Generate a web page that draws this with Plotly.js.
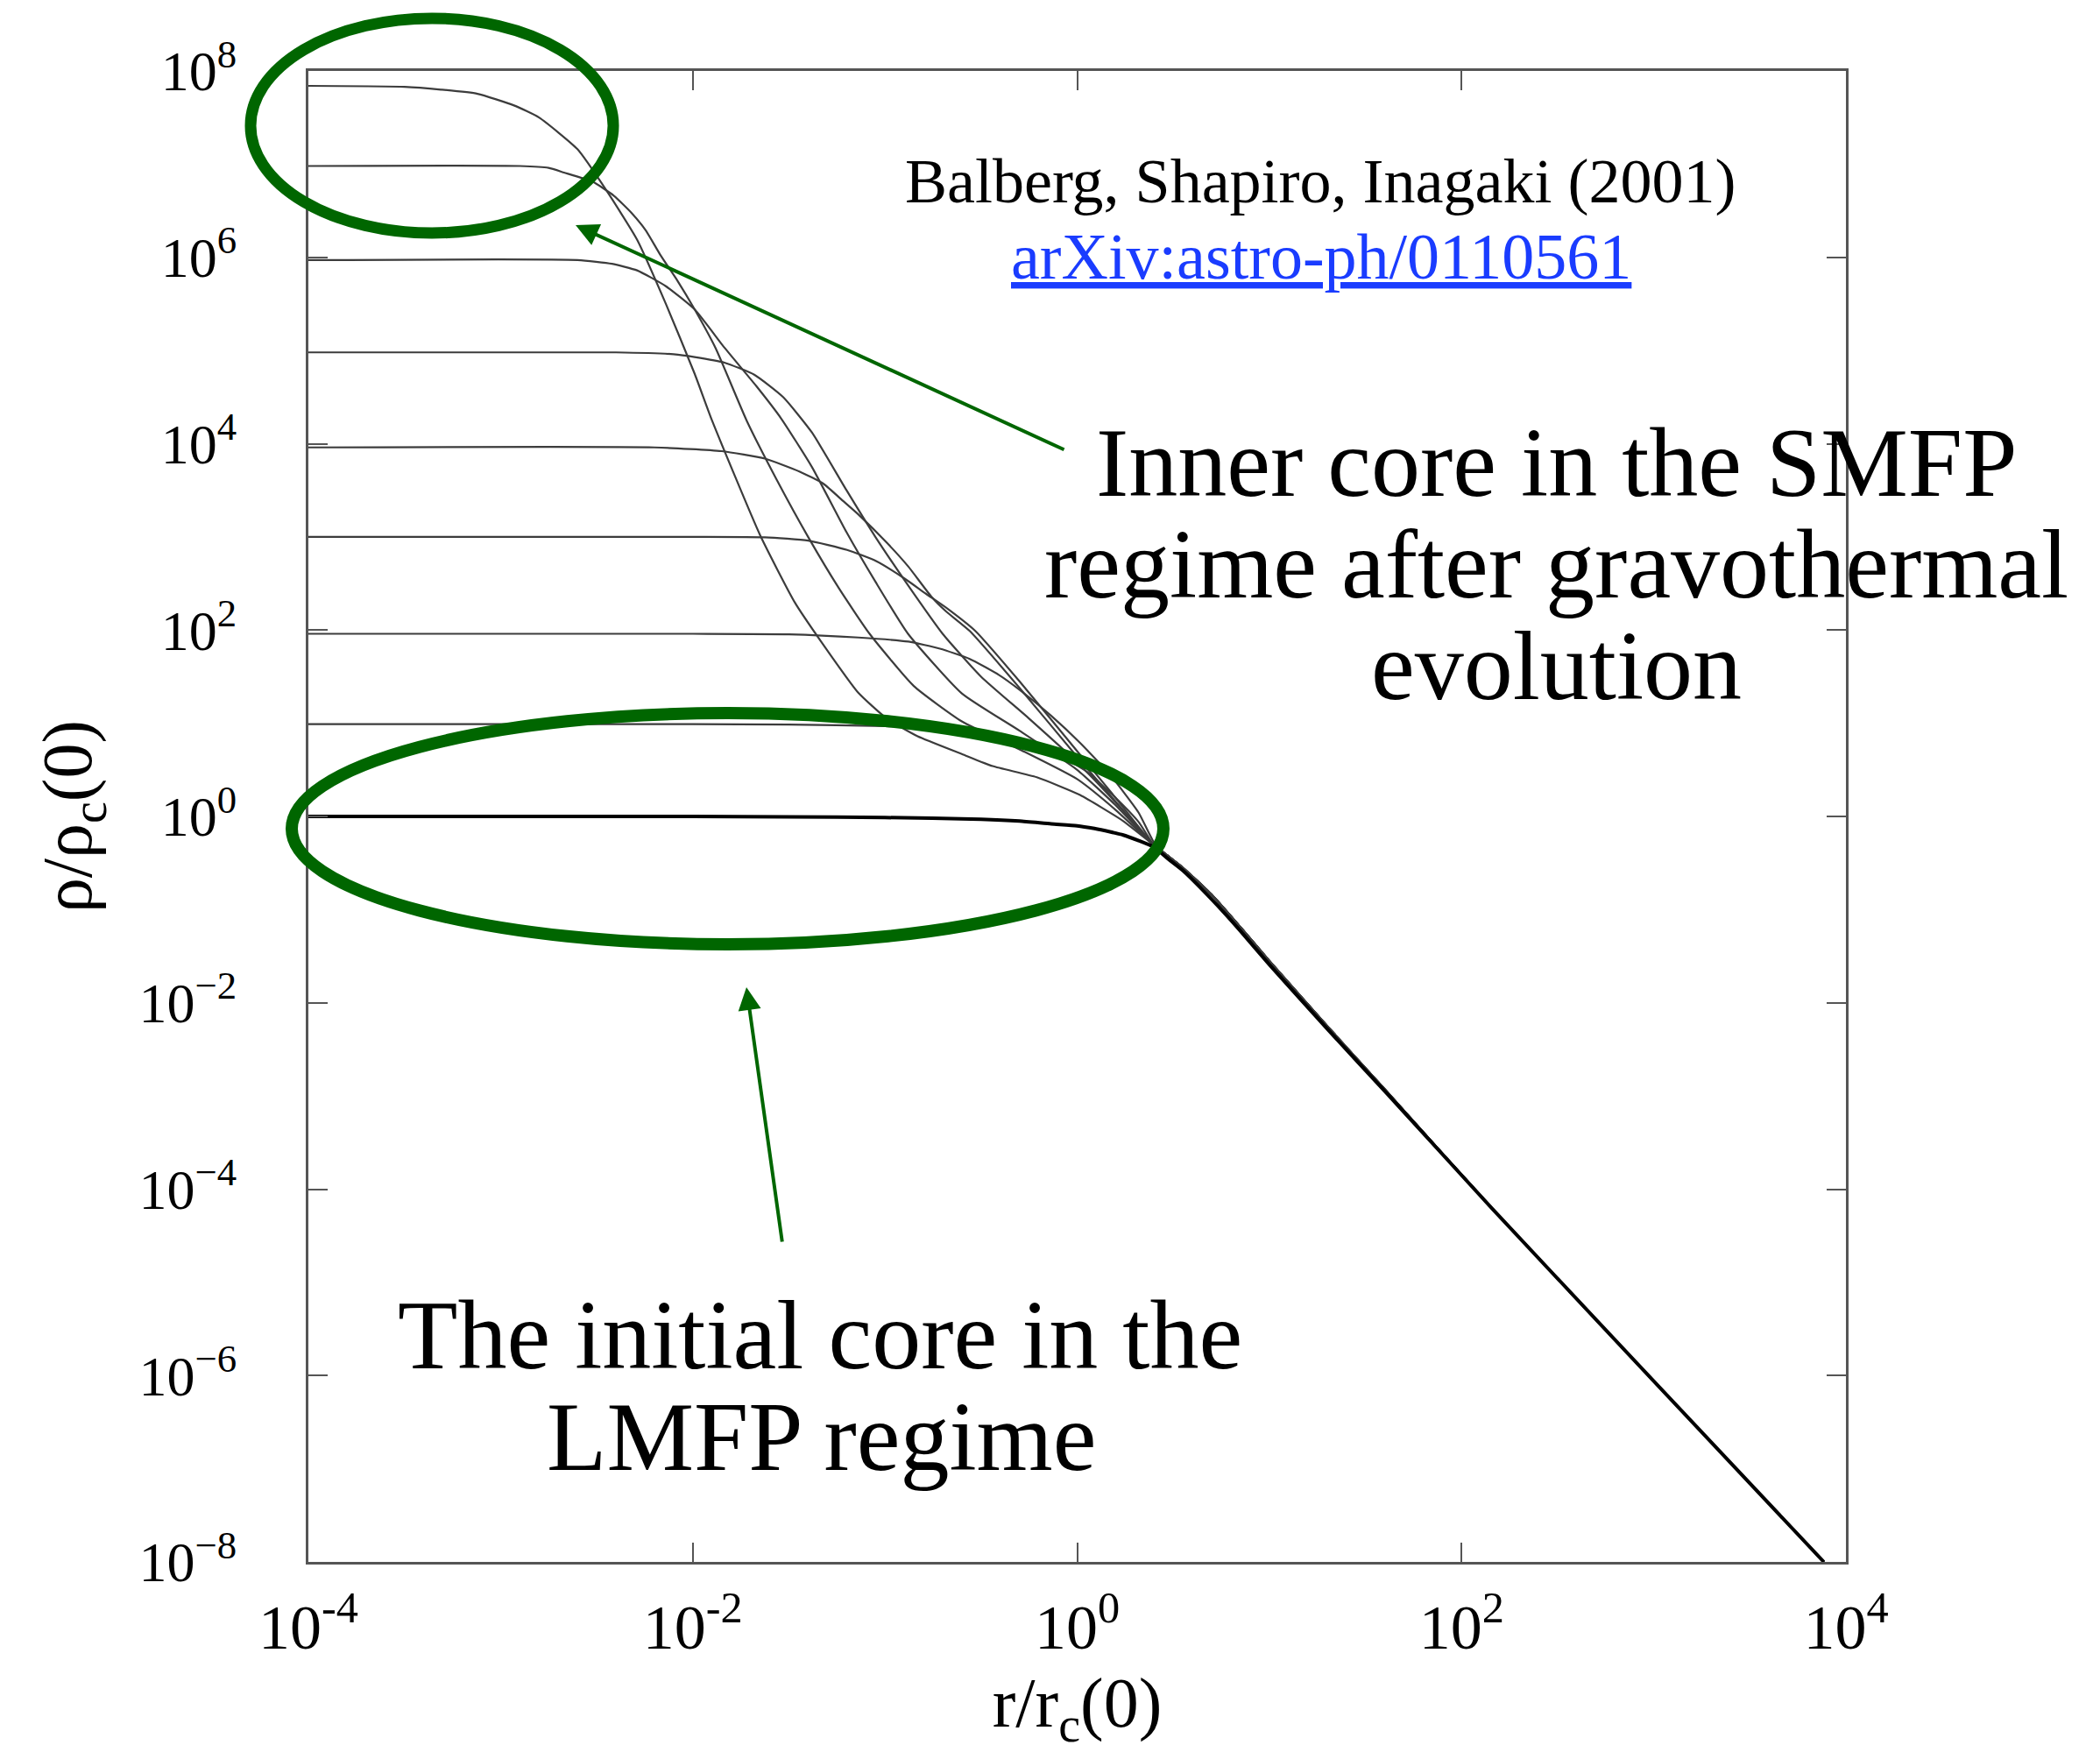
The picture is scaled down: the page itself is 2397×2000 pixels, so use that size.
<!DOCTYPE html>
<html>
<head>
<meta charset="utf-8">
<script src="https://cdn.plot.ly/plotly-3.0.1.min.js"></script>
<style>html,body{margin:0;padding:0;background:#fff;}</style>
</head>
<body>
<div id="chart" style="width:2397px;height:2000px;"></div>
<script>
// Values, stored as log10 exponents
// Initial profile (rho_c = 1)
const c0LogR   = [-4, -3, -2, -1.5, -1, -0.5, -0.3, -0.135, 0.0, 0.09, 0.17, 0.24, 0.32, 0.40, 0.47, 0.55, 0.70, 0.85, 1.0, 1.31, 1.61, 2.16, 3.0, 3.885];
const c0LogRho = [0, 0, 0, -0.005, -0.012, -0.03, -0.05, -0.08, -0.10, -0.13, -0.165, -0.20, -0.26, -0.33, -0.45, -0.58, -0.89, -1.23, -1.59, -2.30, -2.97, -4.21, -6.06, -8.0];

// Outer envelope shared by the evolved profiles
const tailLogR   = [0.47, 0.55, 0.70, 0.85, 1.0, 1.31, 1.61, 2.16, 3.0, 3.885];
const tailLogRho = [-0.42, -0.55, -0.84, -1.19, -1.55, -2.27, -2.95, -4.21, -6.06, -8.0];

// Evolved profiles (inner parts)
const c1LogR   = [-4, -2, -1.5, -1.0, -0.7, -0.45, -0.25, -0.1, 0.05, 0.2, 0.32, 0.40];
const c1LogRho = [0.99, 0.99, 0.985, 0.97, 0.935, 0.87, 0.78, 0.66, 0.48, 0.20, -0.06, -0.31];

const c2LogR   = [-4, -2, -1.5, -1.138, -0.878, -0.714, -0.559, -0.408, -0.30, -0.135, 0.015, 0.17, 0.32, 0.40];
const c2LogRho = [1.96, 1.96, 1.955, 1.92, 1.876, 1.80, 1.69, 1.52, 1.36, 1.08, 0.79, 0.45, 0.04, -0.28];

const c3LogR   = [-4, -2, -1.625, -1.40, -1.197, -1.046, -0.896, -0.787, -0.682, -0.53, -0.3, 0.0, 0.2, 0.40];
const c3LogRho = [3.0, 3.0, 2.995, 2.96, 2.86, 2.74, 2.55, 2.39, 2.24, 1.99, 1.45, 0.70, 0.20, -0.31];

const c4LogR   = [-4, -2.2, -1.85, -1.625, -1.443, -1.32, -1.215, -1.138, -0.987, -0.878, -0.759, -0.682, -0.559, -0.3, 0.0, 0.2, 0.40];
const c4LogRho = [3.96, 3.96, 3.92, 3.84, 3.70, 3.57, 3.38, 3.24, 2.93, 2.68, 2.36, 2.20, 1.99, 1.38, 0.64, 0.16, -0.31];

const c5LogR   = [-4, -2.4, -2.1, -1.99, -1.835, -1.68, -1.53, -1.38, -1.20, -1.05, -0.88, -0.70, -0.5, -0.25, 0.0, 0.2, 0.40];
const c5LogRho = [4.98, 4.98, 4.96, 4.93, 4.87, 4.74, 4.50, 4.12, 3.50, 3.0, 2.48, 1.96, 1.50, 1.05, 0.58, 0.15, -0.31];

const c6LogR   = [-4, -2.6, -2.42, -2.29, -2.14, -1.99, -1.835, -1.67, -1.54, -1.38, -1.20, -1.05, -0.88, -0.6, -0.3, 0.0, 0.2, 0.40];
const c6LogRho = [5.97, 5.97, 5.93, 5.86, 5.69, 5.44, 5.03, 4.62, 4.27, 3.75, 3.05, 2.52, 1.96, 1.32, 0.92, 0.50, 0.12, -0.31];

const c7LogR   = [-4, -2.9, -2.75, -2.67, -2.52, -2.41, -2.32, -2.245, -2.17, -2.08, -1.99, -1.88, -1.72, -1.56, -1.40, -1.24, -1.08, -0.85, -0.6, -0.3, 0.0, 0.2, 0.40];
const c7LogRho = [6.98, 6.98, 6.96, 6.91, 6.81, 6.66, 6.48, 6.29, 6.03, 5.75, 5.44, 5.02, 4.25, 3.60, 3.0, 2.45, 1.96, 1.40, 1.02, 0.72, 0.40, 0.07, -0.31];

const c8LogR   = [-4, -3.5, -3.31, -3.12, -2.93, -2.80, -2.60, -2.45, -2.29, -2.14, -1.99, -1.90, -1.65, -1.47, -1.33, -1.14, -0.99, -0.83, -0.60, -0.44, -0.21, 0.015, 0.24, 0.40];
const c8LogRho = [7.84, 7.83, 7.80, 7.755, 7.63, 7.50, 7.16, 6.72, 6.19, 5.50, 4.75, 4.25, 3.02, 2.30, 1.87, 1.33, 1.05, 0.86, 0.67, 0.54, 0.42, 0.23, -0.05, -0.31];

// Tick labels
const xTickExp = [-4, -2, 0, 2, 4];
const xTickText = ['10<sup>-4</sup>', '10<sup>-2</sup>', '10<sup>0</sup>', '10<sup>2</sup>', '10<sup>4</sup>'];
const yTickExp = [-8, -6, -4, -2, 0, 2, 4, 6, 8];
const yTickText = ['10<sup>\u22128</sup>', '10<sup>\u22126</sup>', '10<sup>\u22124</sup>', '10<sup>\u22122</sup>',
                   '10<sup>0</sup>', '10<sup>2</sup>', '10<sup>4</sup>', '10<sup>6</sup>', '10<sup>8</sup>'];

const pow10 = a => a.map(v => Math.pow(10, v));

const evolved = [
  [c1LogR, c1LogRho], [c2LogR, c2LogRho], [c3LogR, c3LogRho], [c4LogR, c4LogRho],
  [c5LogR, c5LogRho], [c6LogR, c6LogRho], [c7LogR, c7LogRho], [c8LogR, c8LogRho]
];

const traces = evolved.map(([lr, lrho]) => ({
  type: 'scatter', mode: 'lines',
  x: pow10(lr.concat(tailLogR)),
  y: pow10(lrho.concat(tailLogRho)),
  line: {color: '#3c3c3c', width: 2.2, shape: 'spline', smoothing: 0.5},
  hoverinfo: 'skip'
}));
traces.push({
  type: 'scatter', mode: 'lines',
  x: pow10(c0LogR), y: pow10(c0LogRho),
  line: {color: '#000000', width: 4, shape: 'spline', smoothing: 0.5},
  hoverinfo: 'skip'
});

const green = '#006600';
const serif = 'Liberation Serif, Times New Roman, serif';

const layout = {
  width: 2397, height: 2000,
  margin: {l: 352, r: 290, t: 81, b: 217, autoexpand: false},
  paper_bgcolor: '#ffffff', plot_bgcolor: '#ffffff',
  showlegend: false,
  font: {family: serif, color: '#000000'},
  xaxis: {
    type: 'log', range: [-4, 4], automargin: false,
    tickvals: pow10(xTickExp), ticktext: xTickText,
    ticks: 'inside', ticklen: 22, tickwidth: 2, tickcolor: '#555555',
    showline: true, linecolor: '#555555', linewidth: 3, mirror: 'ticks',
    showgrid: false, zeroline: false,
    tickfont: {family: serif, size: 72, color: '#000'},
    ticklabelstandoff: 10,
    title: {text: 'r/r<sub>c</sub>(0)', font: {family: serif, size: 80, color: '#000'}, standoff: 20}
  },
  yaxis: {
    type: 'log', range: [-8, 8], automargin: false,
    tickvals: pow10(yTickExp), ticktext: yTickText,
    ticks: 'inside', ticklen: 22, tickwidth: 2, tickcolor: '#555555',
    showline: true, linecolor: '#555555', linewidth: 3, mirror: 'ticks',
    showgrid: false, zeroline: false,
    tickfont: {family: serif, size: 64, color: '#000'},
    ticklabelstandoff: 66,
    title: {text: '\u03c1/\u03c1<sub>c</sub>(0)', font: {family: serif, size: 80, color: '#000'}, standoff: 28}
  },
  shapes: [
    {type: 'circle', xref: 'paper', yref: 'paper', x0: -0.0376, x1: 0.1983, y0: 0.8913, y1: 1.0353,
     line: {color: green, width: 13}, layer: 'above'},
    {type: 'circle', xref: 'paper', yref: 'paper', x0: -0.01083, x1: 0.5561, y0: 0.4142, y1: 0.5693,
     line: {color: green, width: 14}, layer: 'above'}
  ],
  annotations: [
    {xref: 'paper', yref: 'paper', x: 0.1738, y: 0.8966, ax: 559, ay: 257, text: '',
     showarrow: true, arrowhead: 2, arrowsize: 1.3, arrowwidth: 4, arrowcolor: green},
    {xref: 'paper', yref: 'paper', x: 0.2849, y: 0.3854, ax: 41, ay: 292, text: '',
     showarrow: true, arrowhead: 2, arrowsize: 1.3, arrowwidth: 4, arrowcolor: green},
    {xref: 'paper', yref: 'paper', x: 0.6581, y: 0.9258, xanchor: 'center', yanchor: 'middle', showarrow: false,
     text: 'Balberg, Shapiro, Inagaki (2001)', font: {family: serif, size: 72, color: '#000'}},
    {xref: 'paper', yref: 'paper', x: 0.6587, y: 0.8756, xanchor: 'center', yanchor: 'middle', showarrow: false,
     text: '<u>arXiv:astro-ph/0110561</u>', font: {family: serif, size: 74, color: '#1a3cff'}},
    {xref: 'paper', yref: 'paper', x: 0.8114, y: 0.7374, xanchor: 'center', yanchor: 'middle', showarrow: false,
     text: 'Inner core in the SMFP', font: {family: serif, size: 112, color: '#000'}},
    {xref: 'paper', yref: 'paper', x: 0.8114, y: 0.6692, xanchor: 'center', yanchor: 'middle', showarrow: false,
     text: 'regime after gravothermal', font: {family: serif, size: 112, color: '#000'}},
    {xref: 'paper', yref: 'paper', x: 0.8114, y: 0.6011, xanchor: 'center', yanchor: 'middle', showarrow: false,
     text: 'evolution', font: {family: serif, size: 112, color: '#000'}},
    {xref: 'paper', yref: 'paper', x: 0.3328, y: 0.1522, xanchor: 'center', yanchor: 'middle', showarrow: false,
     text: 'The initial core in the', font: {family: serif, size: 112, color: '#000'}},
    {xref: 'paper', yref: 'paper', x: 0.3334, y: 0.0840, xanchor: 'center', yanchor: 'middle', showarrow: false,
     text: 'LMFP regime', font: {family: serif, size: 112, color: '#000'}}
  ]
};

Plotly.newPlot('chart', traces, layout, {staticPlot: true, displayModeBar: false});
</script>
</body>
</html>
